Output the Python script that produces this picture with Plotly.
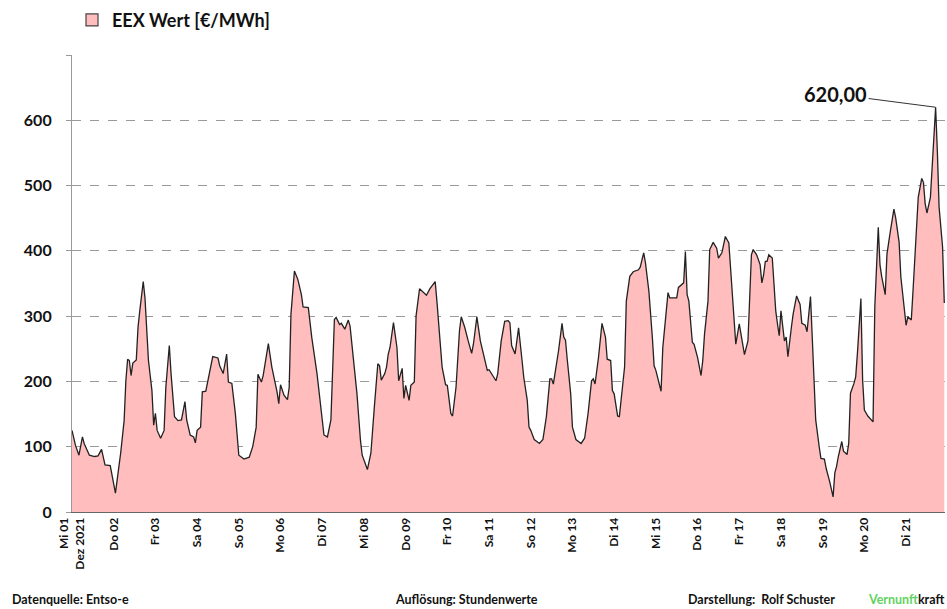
import pandas as pd
import plotly.graph_objects as go

# Stundenwerte EEX, Dezember 2021 (Stunden ab 01.12.2021 00:00)
stunden = [
    0, 2, 4, 6, 7, 10, 13, 15, 17, 19, 22, 24, 25, 27, 28, 30, 31, 32, 33, 34,
    35, 37, 38, 39, 41, 42, 44, 46, 47, 48, 49, 51, 53, 54, 56, 57, 59, 61, 63, 65,
    66, 68, 70, 71, 72, 74, 75, 77, 79, 81, 84, 85, 87, 89, 90, 92, 94, 96, 99, 102,
    104, 106, 107, 109, 110, 113, 115, 117, 118, 119, 120, 122, 124, 125, 126, 128, 130, 132, 133, 136,
    138, 141, 144, 145, 147, 149, 151, 152, 154, 155, 157, 159, 160, 162, 164, 166, 167, 170, 172, 174,
    176, 177, 178, 180, 181, 182, 183, 185, 187, 188, 190, 191, 192, 194, 195, 197, 198, 200, 202, 204,
    206, 209, 210, 212, 213, 215, 216, 218, 219, 221, 223, 224, 226, 228, 230, 231, 233, 235, 237, 239,
    240, 242, 244, 245, 247, 249, 251, 252, 253, 255, 256, 257, 259, 260, 262, 263, 264, 266, 269, 271,
    273, 275, 276, 277, 280, 282, 283, 284, 285, 287, 288, 290, 293, 295, 297, 299, 300, 301, 303, 305,
    307, 308, 310, 311, 312, 314, 315, 317, 318, 319, 321, 323, 326, 327, 329, 330, 332, 334, 335, 336,
    339, 340, 343, 344, 348, 349, 351, 352, 353, 354, 355, 357, 358, 360, 362, 363, 364, 366, 367, 369,
    371, 372, 374, 376, 378, 379, 381, 382, 384, 386, 387, 389, 390, 391, 392, 394, 396, 397, 398, 399,
    400, 401, 403, 404, 405, 406, 407, 408, 410, 411, 412, 414, 415, 417, 419, 420, 422, 423, 425, 426,
    427, 428, 430, 431, 433, 434, 436, 438, 439, 440, 441, 443, 444, 446, 447, 448, 450, 451, 452, 454,
    455, 456, 458, 460, 461, 462, 464, 465, 466, 468, 469, 471, 472, 473, 474, 476, 477, 479, 480, 481,
    482, 483, 484, 486, 487, 489, 490, 491, 492, 494, 495, 496, 497, 498, 499, 501, 502,
]
werte = [
    125, 102, 87, 115, 105, 87, 85, 86, 96, 72, 71, 39, 29, 70, 90, 140, 201, 234, 232, 209,
    228, 233, 283, 308, 353, 328, 232, 186, 133, 151, 125, 113, 125, 191, 255, 212, 146, 140, 141, 169,
    141, 118, 115, 106, 125, 130, 184, 185, 212, 238, 236, 224, 212, 242, 199, 197, 151, 87, 81, 84,
    100, 130, 211, 199, 209, 258, 222, 199, 184, 166, 195, 179, 172, 191, 303, 369, 356, 333, 314, 313,
    267, 212, 146, 118, 115, 141, 295, 298, 287, 289, 280, 294, 285, 237, 181, 110, 87, 65, 90, 161,
    227, 224, 202, 212, 222, 242, 252, 290, 252, 201, 220, 174, 194, 171, 194, 199, 300, 342, 337, 332,
    342, 353, 323, 262, 222, 195, 194, 151, 147, 191, 278, 299, 283, 262, 243, 257, 299, 262, 237, 217,
    218, 209, 201, 212, 262, 292, 293, 290, 255, 242, 262, 282, 232, 206, 171, 130, 125, 111, 105, 111,
    146, 204, 204, 196, 247, 289, 268, 263, 234, 181, 130, 111, 105, 113, 151, 201, 204, 196, 237, 289,
    268, 234, 232, 186, 181, 147, 146, 196, 222, 323, 361, 368, 371, 375, 397, 382, 338, 267, 224, 217,
    185, 252, 336, 328, 328, 344, 349, 351, 399, 333, 323, 260, 257, 237, 209, 232, 272, 323, 402, 413,
    404, 389, 397, 422, 412, 374, 308, 257, 288, 257, 241, 262, 323, 394, 402, 394, 379, 351, 363, 384,
    384, 394, 389, 349, 308, 288, 270, 308, 262, 268, 238, 283, 303, 331, 318, 289, 286, 276, 330, 268,
    192, 141, 100, 82, 81, 67, 47, 23, 60, 70, 85, 108, 93, 88, 105, 182, 197, 207, 243, 327,
    202, 156, 147, 141, 138, 314, 436, 378, 360, 333, 395, 431, 446, 464, 451, 413, 360, 314, 286, 299,
    296, 294, 339, 426, 482, 511, 505, 472, 458, 482, 528, 563, 620, 553, 467, 406, 320,
]

tage_labels = [
    "Mi 01<br>Dez 2021", "Do 02", "Fr 03", "Sa 04", "So 05", "Mo 06", "Di 07",
    "Mi 08", "Do 09", "Fr 10", "Sa 11", "So 12", "Mo 13", "Di 14", "Mi 15",
    "Do 16", "Fr 17", "Sa 18", "So 19", "Mo 20", "Di 21",
]
y_ticks = [0, 100, 200, 300, 400, 500, 600, 700]
y_ticktext = ["0", "100", "200", "300", "400", "500", "600", ""]

start = pd.Timestamp("2021-12-01 00:00")
zeit = start + pd.to_timedelta(stunden, unit="h")
tage = pd.date_range(start, periods=len(tage_labels), freq="D")

max_idx = werte.index(max(werte))

FONT = "Lato"

fig = go.Figure()

fig.add_trace(
    go.Scatter(
        x=zeit,
        y=werte,
        mode="lines",
        fill="tozeroy",
        fillcolor="#ffbdbd",
        line=dict(color="#222222", width=1.3),
        showlegend=False,
        hovertemplate="%{x}<br>%{y:.2f} €/MWh<extra></extra>",
    )
)

# Legendeneintrag als Quadrat
fig.add_trace(
    go.Scatter(
        x=[None],
        y=[None],
        mode="markers",
        name="EEX Wert [€/MWh]",
        marker=dict(symbol="square", size=12, color="#ffbdbd",
                    line=dict(color="#444444", width=1.2)),
    )
)

fig.add_annotation(
    x=zeit[max_idx],
    y=werte[max_idx],
    text=f"{werte[max_idx]:.2f}".replace(".", ","),
    showarrow=True,
    arrowhead=0,
    arrowwidth=1,
    arrowcolor="#333333",
    ax=-100,
    ay=-13,
    font=dict(family=FONT, size=20, weight="bold", color="#111111"),
)

fuss = [
    (-0.071, "left", "Datenquelle: Entso-e"),
    (0.3677, "left", "Auflösung: Stundenwerte"),
    (0.7033, "left", "Darstellung:  Rolf Schuster"),
    (1.001, "right", "<span style='color:#5fd35f'>Vernunft</span>kraft"),
]
for fx, anchor, txt in fuss:
    fig.add_annotation(
        x=fx, y=-0.191, xref="paper", yref="paper",
        xanchor=anchor, yanchor="middle",
        text=txt, showarrow=False,
        font=dict(family=FONT, size=12.5, weight="bold", color="#111111"),
    )

fig.update_layout(
    width=947,
    height=609,
    paper_bgcolor="white",
    plot_bgcolor="white",
    margin=dict(l=72, r=2, t=53, b=97),
    font=dict(family=FONT, color="#111111"),
    legend=dict(
        orientation="h",
        x=0.0, y=1.076, xanchor="left", yanchor="middle",
        font=dict(family=FONT, size=18, weight="bold", color="#111111"),
        itemwidth=30,
    ),
    xaxis=dict(
        range=[start, start + pd.Timedelta(hours=502.4)],
        tickvals=tage,
        ticktext=tage_labels,
        tickangle=-90,
        tickfont=dict(family=FONT, size=12, weight="bold", color="#111111"),
        showgrid=False,
        showline=True,
        linecolor="#666666",
        linewidth=1.2,
        zeroline=False,
    ),
    yaxis=dict(
        range=[0, 700],
        tickvals=y_ticks,
        ticktext=y_ticktext,
        tickfont=dict(family=FONT, size=16, weight="bold", color="#111111"),
        ticks="outside",
        ticklen=5,
        tickcolor="#999999",
        ticklabelstandoff=11,
        showgrid=True,
        gridcolor="#9a9a9a",
        griddash="dash",
        gridwidth=1,
        showline=True,
        linecolor="#999999",
        linewidth=1.2,
        zeroline=False,
    ),
)

fig.write_html(
    "out.html",
    config={"displayModeBar": False},
    post_script="document.body.style.margin='0';document.body.style.overflow='hidden';",
)
